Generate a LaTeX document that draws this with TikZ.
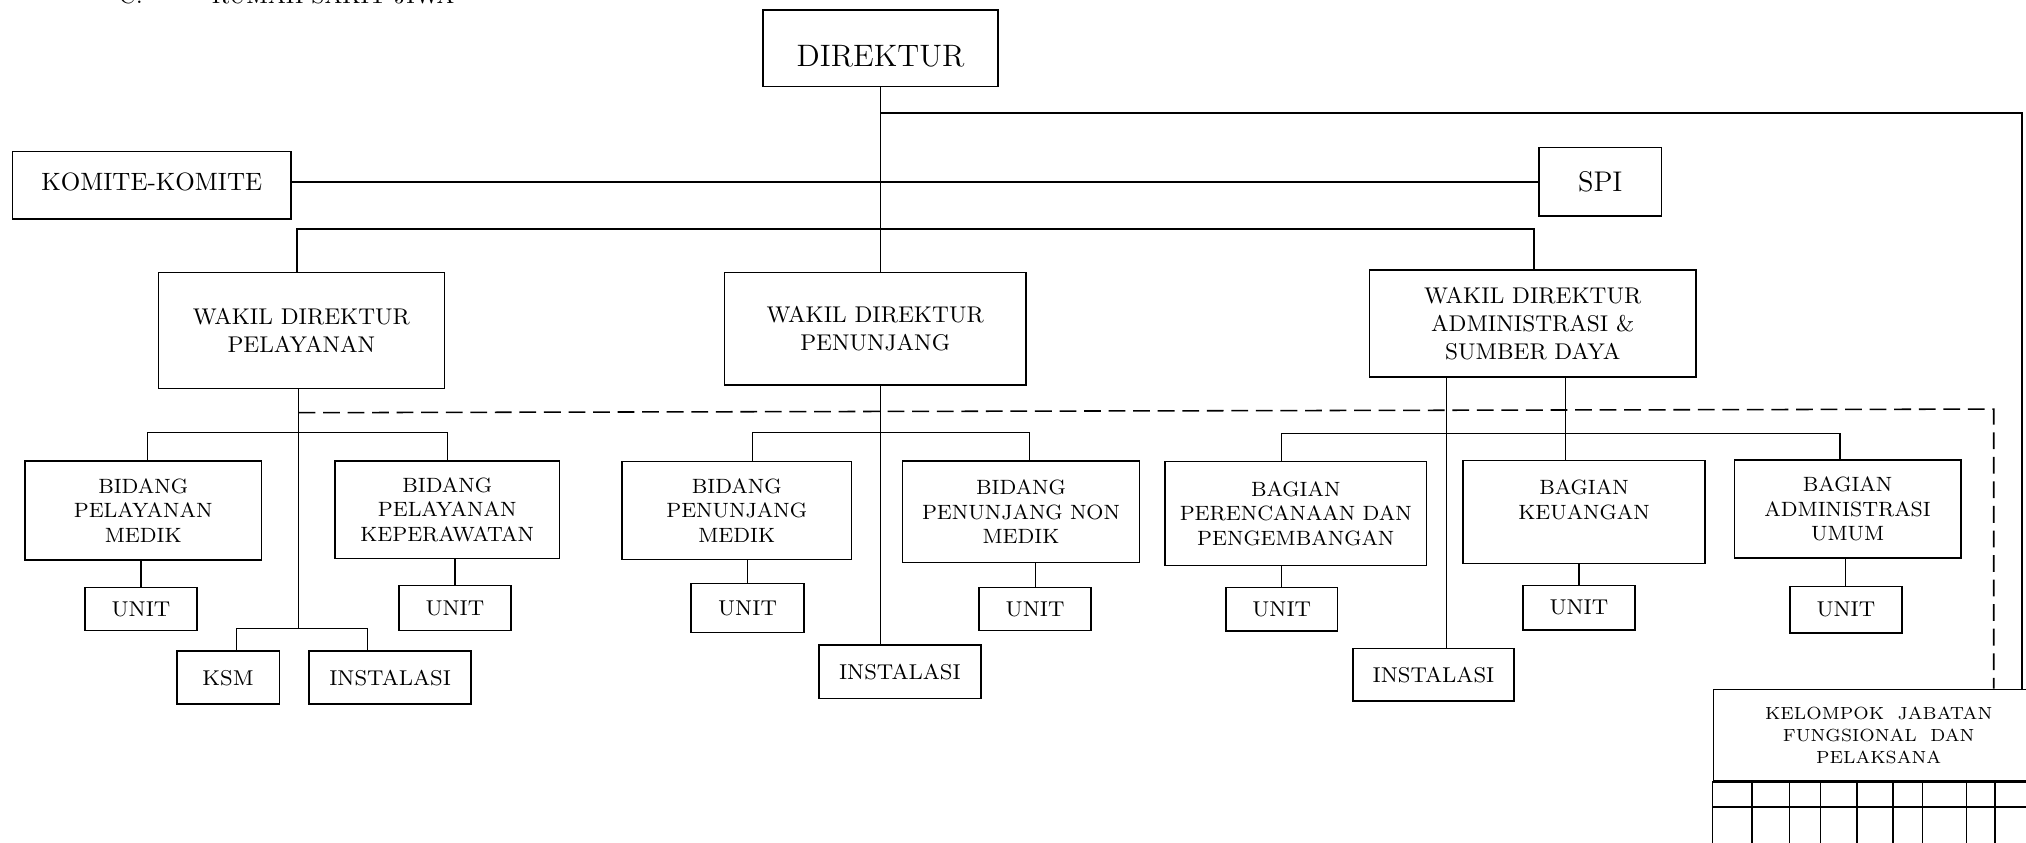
\documentclass[tikz,border=0pt]{standalone}
\usepackage{tikz}

\begin{document}
\begin{tikzpicture}[x=0.5pt, y=-0.5pt,
    kotak/.style ={draw, line width=0.6pt, align=center, inner sep=0pt,
                   font=\fontsize{8.3}{9.5}\selectfont},
    bidang/.style ={kotak, font=\fontsize{8}{9.5}\selectfont},
    wakil/.style ={kotak, font=\fontsize{8.8}{10.8}\selectfont},
    garis/.style ={line width=0.45pt},
    garistebal/.style ={line width=0.65pt},
    putus/.style ={line width=0.6pt, dash pattern=on 6.5pt off 3pt}]
   \useasboundingbox (0,0) rectangle (1568,652.4);

   % judul (terpotong di atas)
   \node[anchor=base west, font=\fontsize{8.9}{10}\selectfont] (nomor) at (85,2.6) {C.};
   \node[anchor=base west, font=\fontsize{8.9}{10}\selectfont] (judul) at (157,2.6) {RUMAH SAKIT JIWA};

   % pimpinan
   \node[kotak, minimum width=90.9pt, minimum height=29.65pt, font=\fontsize{12}{14}\selectfont] (dir) at (681.5,37.35) {\rule{0pt}{14.4pt}DIREKTUR};
   \node[kotak, minimum width=107.8pt, minimum height=26.15pt, font=\fontsize{9.7}{11}\selectfont] (kom) at (117.5,143.55) {KOMITE-KOMITE\rule[-3pt]{0pt}{3pt}};
   \node[kotak, minimum width=47.5pt, minimum height=26.45pt, font=\fontsize{11}{13}\selectfont] (spi) at (1238.5,140.75) {SPI};

   \node[wakil, minimum width=110.65pt, minimum height=44.8pt] (wpel) at (233.25,255.8) {WAKIL DIREKTUR\\PELAYANAN};
   \node[wakil, minimum width=116.65pt, minimum height=43.5pt] (wpen) at (677.35,254.5) {WAKIL DIREKTUR\\PENUNJANG};
   \node[wakil, minimum width=126.25pt, minimum height=41.4pt] (wadm) at (1186.25,250.4) {WAKIL DIREKTUR\\ADMINISTRASI \&\\SUMBER DAYA};

   % pelayanan
   \node[bidang, minimum width=91.5pt, minimum height=38.4pt] (bplm) at (110.8,395) {BIDANG\\PELAYANAN\\MEDIK};
   \node[bidang, minimum width=86.9pt, minimum height=37.75pt] (bplk) at (346.1,394.35) {BIDANG\\PELAYANAN\\KEPERAWATAN};
   \node[kotak, minimum width=43.35pt, minimum height=16.7pt] (u1) at (109.15,471.3) {UNIT};
   \node[kotak, minimum width=43.4pt, minimum height=17.35pt] (u2) at (352.1,470.65) {UNIT};
   \node[kotak, minimum width=39.7pt, minimum height=20.5pt] (ksm) at (176.5,524.5) {KSM};
   \node[kotak, minimum width=62.65pt, minimum height=20.5pt] (ins1) at (301.95,524.5) {INSTALASI};

   % penunjang
   \node[bidang, minimum width=88.85pt, minimum height=37.8pt] (bpjm) at (570.15,395.1) {BIDANG\\PENUNJANG\\MEDIK};
   \node[bidang, minimum width=91.8pt, minimum height=39.45pt] (bpjn) at (790.2,396.05) {BIDANG\\PENUNJANG NON\\MEDIK};
   \node[kotak, minimum width=43.75pt, minimum height=19pt] (u3) at (578.55,470.5) {UNIT};
   \node[kotak, minimum width=43.4pt, minimum height=16.7pt] (u4) at (801.1,471.3) {UNIT};
   \node[kotak, minimum width=62.65pt, minimum height=20.65pt] (ins2) at (696.45,519.85) {INSTALASI};

   % administrasi
   \node[bidang, minimum width=101.15pt, minimum height=40.25pt] (bren) at (1002.85,397.55) {BAGIAN\\PERENCANAAN DAN\\PENGEMBANGAN};
   \node[bidang, minimum width=93.75pt, minimum height=39.85pt] (bkeu) at (1225.95,396.15) {BAGIAN\\KEUANGAN\\\mbox{}};
   \node[bidang, minimum width=87.55pt, minimum height=38pt] (badm) at (1429.95,394) {BAGIAN\\ADMINISTRASI\\UMUM};
   \node[kotak, minimum width=43pt, minimum height=16.9pt] (u5) at (992,471.5) {UNIT};
   \node[kotak, minimum width=43.5pt, minimum height=17.05pt] (u6) at (1222,470.35) {UNIT};
   \node[kotak, minimum width=43.4pt, minimum height=17.95pt] (u7) at (1428.6,471.75) {UNIT};
   \node[kotak, minimum width=62.45pt, minimum height=20.3pt] (ins3) at (1109.45,522.3) {INSTALASI};

   % kelompok jabatan fungsional
   \node[kotak, minimum width=128pt, minimum height=35.5pt, font=\fontsize{6.8}{8.4}\selectfont] (kjf) at (1454,569) {KELOMPOK~~JABATAN\\FUNGSIONAL~~DAN\\PELAKSANA};
   \draw[line width=0.6pt] (kjf.south west) rectangle (1582,700);
   \draw[line width=0.6pt] (1326,624.5) -- (1582,624.5);
   \foreach \x in {1356,1385,1409,1437,1465,1488,1522,1544}
      \draw[line width=0.6pt] (\x,604.5) -- (\x,700);

   % titik bantu
   \coordinate (dj) at (681.5,87.2);
   \coordinate (dk) at (1565,87.2);
   \coordinate (wl) at (229.8,177.3);
   \coordinate (wr) at (1187.3,177.3);
   \coordinate (pj) at (231,334.9);
   \coordinate (bl) at (114,334.9);
   \coordinate (br) at (346.6,334.9);
   \coordinate (kl) at (183,486.7);
   \coordinate (kr) at (284.4,486.7);
   \coordinate (mj) at (681.5,334.7);
   \coordinate (ml) at (582.3,334.7);
   \coordinate (mr) at (796.5,334.7);
   \coordinate (ai) at (1119.2,335.4);
   \coordinate (ak) at (1211.3,335.4);
   \coordinate (al) at (991.6,335.4);
   \coordinate (ar) at (1424,335.4);
   \coordinate (dl) at (231,319.4);
   \coordinate (dr) at (1543,316.6);

   % garis komando
   \draw[garis] (dj |- dir.south) -- (dj |- wpen.north);
   \draw[garistebal] (dj) -- (dk) -- (dk |- kjf.north);
   \draw[garistebal] (spi.west) -- (spi.west -| kom.east);
   \draw[garistebal] (wl |- wpel.north) -- (wl) -- (wr) -- (wr |- wadm.north);

   \draw[garis] (pj |- wpel.south) -- (pj |- kl);
   \draw[garis] (bl |- bplm.north) -- (bl) -- (br) -- (br |- bplk.north);
   \draw[garis] (u1.north |- bplm.south) -- (u1.north);
   \draw[garis] (u2.north |- bplk.south) -- (u2.north);
   \draw[garis] (kl |- ksm.north) -- (kl) -- (kr) -- (kr |- ins1.north);

   \draw[garis] (mj |- wpen.south) -- (mj |- ins2.north);
   \draw[garis] (ml |- bpjm.north) -- (ml) -- (mr) -- (mr |- bpjn.north);
   \draw[garis] (u3.north |- bpjm.south) -- (u3.north);
   \draw[garis] (u4.north |- bpjn.south) -- (u4.north);

   \draw[garis] (ai |- wadm.south) -- (ai |- ins3.north);
   \draw[garis] (ak |- wadm.south) -- (ak |- bkeu.north);
   \draw[garis] (al |- bren.north) -- (al) -- (ar) -- (ar |- badm.north);
   \draw[garis] (u5.north |- bren.south) -- (u5.north);
   \draw[garis] (u6.north |- bkeu.south) -- (u6.north);
   \draw[garis] (u7.north |- badm.south) -- (u7.north);

   % garis koordinasi
   \draw[putus] (dl) -- (dr) -- (dr |- kjf.north);
\end{tikzpicture}
\end{document}
